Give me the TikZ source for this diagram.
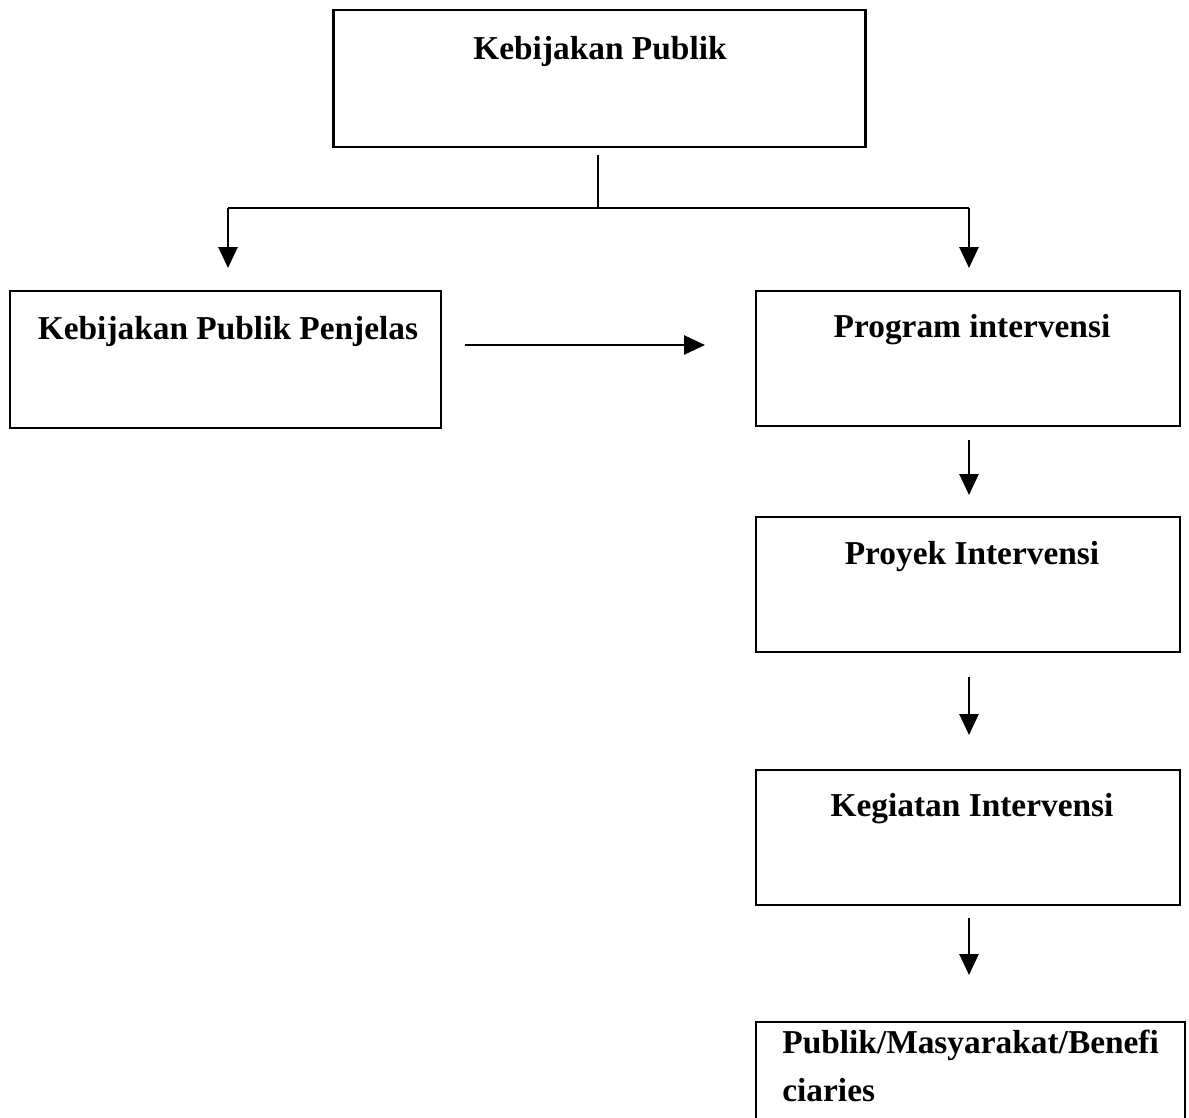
\documentclass[tikz,border=0pt]{standalone}
\usepackage{fontspec}
\setmainfont{Liberation Serif}
\usetikzlibrary{arrows.meta}
\begin{document}
\begin{tikzpicture}[x=0.02cm,y=-0.02cm,
  box/.style={draw,line width=1.5pt,rectangle,inner sep=0pt},
  lbl/.style={anchor=north,inner sep=0pt,font=\fontsize{19}{23}\selectfont\bfseries},
  conn/.style={line width=1.6pt},
  arr/.style={conn,-{Triangle[length=0.42cm,width=0.38cm]}}]
\useasboundingbox (0,0) rectangle (1189,1118);
% boxes
\node[box,minimum width=10.64cm,minimum height=2.74cm] (top) at (599.5,78.5) {};
\node[box,minimum width=8.62cm,minimum height=2.74cm] (left) at (225.5,359.5) {};
\node[box,minimum width=8.48cm,minimum height=2.70cm] (prog) at (968,358.5) {};
\node[box,minimum width=8.48cm,minimum height=2.70cm] (proy) at (968,584.5) {};
\node[box,minimum width=8.48cm,minimum height=2.70cm] (keg) at (968,837.5) {};
\draw[line width=1.5pt] (756,1125) coordinate (pa) |- (1185,1022) coordinate (pb) -- (1185,1125) coordinate (pc);
% labels
\node[lbl] (ttop) at (600,36) {Kebijakan Publik};
\node[lbl] (tleft) at (228,316) {Kebijakan Publik Penjelas};
\node[lbl] (tprog) at (972,314) {Program intervensi};
\node[lbl] (tproy) at (972,541) {Proyek Intervensi};
\node[lbl] (tkeg) at (972,793) {Kegiatan Intervensi};
\node[lbl,anchor=north west,align=left,font=\fontsize{19}{27}\selectfont\bfseries] (tpub) at (782,1030) {Publik/Masyarakat/Benefi\\ciaries};
% connectors
\coordinate (s0) at (598,155);
\coordinate (j0) at (598,208);
\coordinate (jl) at (228,208);
\coordinate (jr) at (969,208);
\coordinate (el) at (228,268);
\coordinate (er) at (969,268);
\draw[conn] (s0) -- (j0);
\draw[conn] (jl) -- (jr);
\draw[arr] (jl) -- (el);
\draw[arr] (jr) -- (er);
\coordinate (h1) at (465,345);
\coordinate (h2) at (705,345);
\draw[arr] (h1) -- (h2);
\coordinate (a1) at (969,440); \coordinate (a2) at (969,495);
\coordinate (b1) at (969,677); \coordinate (b2) at (969,735);
\coordinate (c1) at (969,918); \coordinate (c2) at (969,975);
\draw[arr] (a1) -- (a2);
\draw[arr] (b1) -- (b2);
\draw[arr] (c1) -- (c2);
\end{tikzpicture}
\end{document}
